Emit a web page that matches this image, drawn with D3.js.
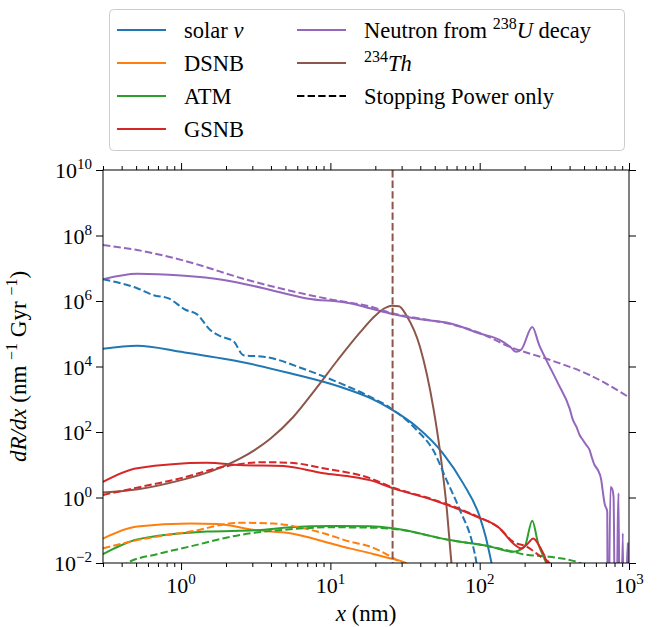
<!DOCTYPE html>
<html>
<head>
<meta charset="utf-8">
<script src="https://cdn.jsdelivr.net/npm/d3@7"></script>
<style>
  body { margin: 0; background: #fff; }
  text { font-family: "Liberation Serif", "DejaVu Serif", serif; fill: #000; }
</style>
</head>
<body>
<div id="chart-area"></div>
<script>
// dR/dx track length spectra, log-log

const MARGIN = { LEFT: 103, RIGHT: 30, TOP: 170, BOTTOM: 64 }
const WIDTH = 659 - MARGIN.LEFT - MARGIN.RIGHT
const HEIGHT = 627 - MARGIN.TOP - MARGIN.BOTTOM

// ---- data: [x (nm), dR/dx] ----
const solarNu = [[0.3,3.5e4],[0.508,4.3e4],[1,2.8e4],[2.49,1.4e4],[5.38,6.2e3],[11.6,2.4e3],[18.4,1.1e3],[25,525],[37.8,145],[56.9,22],[77.5,2.7],[100,0.26],[110,0.06],[120,0.01],[125,0.004]]
const solarNuSP = [[0.3,4.6e6],[0.508,2.45e6],[0.656,1.5e6],[0.826,1.2e6],[1.07,5.4e5],[1.28,3.9e5],[1.57,1.3e5],[1.83,8.5e4],[2.25,5.8e4],[2.62,2.2e4],[3.57,2e4],[6.95,7.8e3],[11.6,3.1e3],[18.4,1.2e3],[25,560],[37.8,115],[48.8,28],[60,3.4],[73.6,0.42],[90.4,0.032],[95.2,0.01],[98,0.004]]

const dsnb = [[0.3,0.056],[0.508,0.13],[1.15,0.16],[1.74,0.155],[3.22,0.1],[5.38,0.081],[10,0.04],[13.5,0.028],[18.4,0.02],[25,0.014],[32,0.01],[36,0.007]]
const dsnbSP = [[0.3,0.028],[0.508,0.05],[1.15,0.091],[2.49,0.17],[4.16,0.16],[8.98,0.081],[13.5,0.045],[18.4,0.032],[30,0.01],[34,0.007]]

const atm = [[0.3,0.0186],[0.508,0.052],[1.49,0.091],[3.22,0.1],[5.38,0.123],[10,0.135],[18.4,0.132],[26.4,0.115],[63,0.05],[117,0.032],[167,0.022],[200,0.032],[225,0.195],[246,0.04],[279,0.01],[290,0.006]]
const atmSP = [[0.4,0.007],[0.436,0.01],[0.69,0.0186],[1.15,0.032],[2.49,0.072],[5.38,0.107],[10,0.123],[18.4,0.12],[26.4,0.11],[63,0.05],[117,0.032],[167,0.022],[195,0.0186],[294,0.0155],[467,0.01],[520,0.008]]

const gsnb = [[0.3,3.0],[0.508,7.8],[1.49,11.5],[2.49,9.8],[4.85,9.1],[8.98,5.5],[13.5,4.4],[18.4,3.4],[26.4,1.9],[48.8,0.83],[95.2,0.26],[136,0.115],[167,0.04],[190,0.028],[211,0.04],[228,0.056],[252,0.032],[282,0.01],[290,0.006]]
const gsnbSP = [[0.3,1.2],[0.508,2.0],[1,3.9],[1.93,8.7],[3.57,12],[5.38,11.5],[8.98,7.8],[18.4,3.9],[26.4,2.0],[48.8,0.87],[95.2,0.27],[136,0.115],[167,0.045],[205,0.032],[265,0.014],[294,0.01],[305,0.007]]

const neutronU = [[0.3,4.6e6],[0.508,6.8e6],[1,6.0e6],[1.93,4.4e6],[3.5,2.5e6],[6.95,1.2e6],[13.5,8.5e5],[18.4,6.0e5],[26,4.0e5],[40,2.75e5],[63,2.1e5],[100,1.02e5],[136,6.5e4],[160,4.0e4],[175,2.8e4],[190,3.3e4],[225,1.6e5],[250,4.6e4],[279,1.6e4],[334,3.1e3],[400,525],[421,234],[444,145],[467,81],[491,57],[517,40],[545,28],[561,18],[588,9.8],[619,6.9],[652,3.4],[668,1.5],[686,0.66],[715,0.37],[721,1e-6],[752,2.1],[769,1.9],[788,1.05],[812,1e-6],[851,1.35],[871,1e-6],[909,0.081],[929,1e-6],[982,0.04],[1000,1e-6]]
const neutronUSP = [[0.3,5.1e7],[0.508,3.6e7],[1,1.8e7],[3,4.0e6],[10,1.12e6],[18.4,6.8e5],[26,4.2e5],[40,2.9e5],[63,2.0e5],[100,1.05e5],[159,4.0e4],[294,1.6e4],[545,5.5e3],[1000,1150]]

const th234 = [[0.3,1.41],[0.513,1.78],[1,3.39],[1.585,6.3],[2.51,15.8],[3.98,63],[5.62,282],[7.94,2000],[11.2,1.58e4],[15.85,1.12e5],[19.95,3.55e5],[22.9,5.9e5],[25.7,7.2e5],[28.8,6.9e5],[32.4,3.55e5],[39.8,4e4],[49,525],[54.1,28],[60,0.52],[64.7,0.01],[67,0.002]]
const thRange = 26.1

const xMajor = [1, 10, 100, 1000]
const xExp = ["0", "1", "2", "3"]
const yMajor = [1e-2, 1, 1e2, 1e4, 1e6, 1e8, 1e10]
const yExp = ["\u22122", "0", "2", "4", "6", "8", "10"]

const COLORS = { blue: "#1f77b4", orange: "#ff7f0e", green: "#2ca02c", red: "#d62728", purple: "#9467bd", brown: "#8c564b" }
const DASH = "7.4,3.2"

const svg = d3.select("#chart-area").append("svg")
  .attr("width", WIDTH + MARGIN.LEFT + MARGIN.RIGHT)
  .attr("height", HEIGHT + MARGIN.TOP + MARGIN.BOTTOM)

const g = svg.append("g")
  .attr("transform", `translate(${MARGIN.LEFT}, ${MARGIN.TOP})`)

// Scales
const x = d3.scaleLog().domain([0.3, 1000]).range([0, WIDTH])
const y = d3.scaleLog().domain([1e-2, 1e10]).range([HEIGHT, 0])

svg.append("defs").append("clipPath").attr("id", "clip")
  .append("rect").attr("width", WIDTH).attr("height", HEIGHT)

const line = d3.line()
  .x(d => x(d[0]))
  .y(d => y(d[1]))
  .curve(d3.curveMonotoneX)

const plot = g.append("g").attr("clip-path", "url(#clip)")

const series = [
  { data: solarNu, color: COLORS.blue },
  { data: dsnb, color: COLORS.orange },
  { data: atm, color: COLORS.green },
  { data: gsnb, color: COLORS.red },
  { data: neutronU, color: COLORS.purple },
  { data: th234, color: COLORS.brown },
  { data: solarNuSP, color: COLORS.blue, dash: true },
  { data: dsnbSP, color: COLORS.orange, dash: true },
  { data: atmSP, color: COLORS.green, dash: true },
  { data: gsnbSP, color: COLORS.red, dash: true },
  { data: neutronUSP, color: COLORS.purple, dash: true }
]

plot.selectAll("path.series")
  .data(series)
  .enter().append("path")
    .attr("class", "series")
    .attr("d", d => line(d.data))
    .attr("fill", "none")
    .attr("stroke", d => d.color)
    .attr("stroke-width", 2)
    .attr("stroke-dasharray", d => d.dash ? DASH : null)

// vertical 234Th marker
plot.append("line")
  .attr("x1", x(thRange)).attr("x2", x(thRange))
  .attr("y1", 0).attr("y2", HEIGHT)
  .attr("stroke", COLORS.brown)
  .attr("stroke-width", 2)
  .attr("stroke-dasharray", DASH)

// Axes (ticks on all four sides, pointing out)
const xMinor = []
for (let e = -1; e < 3; e++) for (let k = 2; k <= 9; k++) {
  const v = k * Math.pow(10, e)
  if (v > 0.3 && v < 1000) xMinor.push(v)
}

function tickAxis(axisFn, scale, values, size, transform) {
  const a = g.append("g")
    .attr("transform", transform || null)
    .call(axisFn(scale).tickValues(values).tickSize(size).tickFormat(""))
  a.select(".domain").remove()
  a.selectAll(".tick line").attr("stroke", "#000").attr("stroke-width", 1)
}
tickAxis(d3.axisBottom, x, xMajor, 7, `translate(0, ${HEIGHT})`)
tickAxis(d3.axisBottom, x, xMinor, 4, `translate(0, ${HEIGHT})`)
tickAxis(d3.axisTop, x, xMajor, 7)
tickAxis(d3.axisTop, x, xMinor, 4)
tickAxis(d3.axisLeft, y, yMajor, 7)
tickAxis(d3.axisRight, y, yMajor, 7, `translate(${WIDTH}, 0)`)

g.append("rect")
  .attr("width", WIDTH).attr("height", HEIGHT)
  .attr("fill", "none").attr("stroke", "#000").attr("stroke-width", 1)

// tick labels as 10^n
g.selectAll("text.xtick")
  .data(xMajor)
  .enter().append("text")
    .attr("class", "xtick")
    .attr("x", d => x(d))
    .attr("y", HEIGHT + 30)
    .attr("text-anchor", "middle")
    .attr("font-size", "22px")
    .each(function(d, i) {
      const t = d3.select(this)
      t.append("tspan").text("10")
      t.append("tspan").attr("dy", -9).attr("font-size", "15px").text(xExp[i])
    })

g.selectAll("text.ytick")
  .data(yMajor)
  .enter().append("text")
    .attr("class", "ytick")
    .attr("x", -11)
    .attr("y", d => y(d) + 8)
    .attr("text-anchor", "end")
    .attr("font-size", "22px")
    .each(function(d, i) {
      const t = d3.select(this)
      t.append("tspan").text("10")
      t.append("tspan").attr("dy", -9).attr("font-size", "15px").text(yExp[i])
    })

// Labels
g.append("text")
  .attr("x", WIDTH / 2)
  .attr("y", HEIGHT + 58)
  .attr("text-anchor", "middle")
  .attr("font-size", "23px")
  .call(t => {
    t.append("tspan").attr("font-style", "italic").text("x")
    t.append("tspan").text(" (nm)")
  })

g.append("text")
  .attr("transform", `translate(-77, ${HEIGHT / 2}) rotate(-90)`)
  .attr("text-anchor", "middle")
  .attr("font-size", "23px")
  .call(t => {
    t.append("tspan").attr("font-style", "italic").text("dR/dx")
    t.append("tspan").text(" (nm ")
    t.append("tspan").attr("dy", -9).attr("font-size", "16px").text("\u22121")
    t.append("tspan").attr("dy", 9).text(" Gyr ")
    t.append("tspan").attr("dy", -9).attr("font-size", "16px").text("\u22121")
    t.append("tspan").attr("dy", 9).text(")")
  })

// Legend
const legendItems = [
  { parts: [["solar ", ""], ["\u03bd", "i"]], color: COLORS.blue },
  { parts: [["DSNB", ""]], color: COLORS.orange },
  { parts: [["ATM", ""]], color: COLORS.green },
  { parts: [["GSNB", ""]], color: COLORS.red },
  { parts: [["Neutron from ", ""], ["238", "s"], ["U", "i"], [" decay", ""]], color: COLORS.purple },
  { parts: [["234", "s"], ["Th", "i"]], color: COLORS.brown },
  { parts: [["Stopping Power only", ""]], color: "#000", dash: true }
]

const legend = svg.append("g")
legend.append("rect")
  .attr("x", 109.5).attr("y", 9.5)
  .attr("width", 515).attr("height", 141)
  .attr("rx", 4)
  .attr("fill", "#fff").attr("fill-opacity", 0.8)
  .attr("stroke", "#cccccc").attr("stroke-width", 1)

const rowY = [30, 63, 96, 129]
legendItems.forEach((item, i) => {
  const col = i < 4 ? 0 : 1
  const ry = rowY[i % 4]
  const hx = col === 0 ? 117 : 297
  legend.append("line")
    .attr("x1", hx).attr("x2", hx + 49)
    .attr("y1", ry).attr("y2", ry)
    .attr("stroke", item.color)
    .attr("stroke-width", 2)
    .attr("stroke-dasharray", item.dash ? DASH : null)
  const t = legend.append("text")
    .attr("x", hx + 67)
    .attr("y", ry + 8)
    .attr("font-size", "22.5px")
  let raised = false
  item.parts.forEach(([txt, style]) => {
    const s = t.append("tspan").text(txt)
    if (style === "s") {
      s.attr("font-size", "16px").attr("dy", -9)
      raised = true
    } else {
      if (raised) { s.attr("dy", 9); raised = false }
      if (style === "i") s.attr("font-style", "italic")
    }
  })
})
</script>
</body>
</html>
